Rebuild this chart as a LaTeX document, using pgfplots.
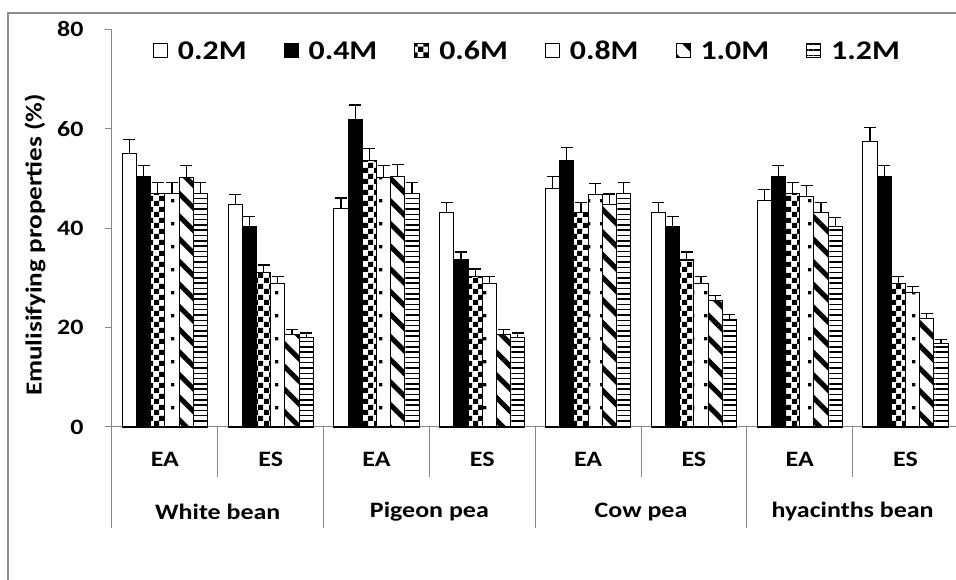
\documentclass[border=0pt]{standalone}
\usepackage{pgfplots}
\pgfplotsset{compat=1.18}
\usepackage{pgfplotstable}
\usepackage{fontspec}
\usetikzlibrary{patterns,patterns.meta}
\newfontfamily\cf{Carlito}[FakeStretch=1.18]
\definecolor{axgray}{HTML}{868686}
\definecolor{bordergray}{HTML}{8C8C8C}

\tikzdeclarepattern{
  name=mycheck, type=uncolored,
  bottom left={(0pt,0pt)}, top right={(11pt,11pt)}, tile size={(11pt,11pt)},
  code={\fill (0pt,0pt) rectangle (5.5pt,5.5pt); \fill (5.5pt,5.5pt) rectangle (11pt,11pt);}
}
\tikzdeclarepattern{
  name=mydots, type=uncolored,
  bottom left={(0pt,0pt)}, top right={(13.225pt,23pt)}, tile size={(13.225pt,23pt)},
  code={\fill (0.2pt,10pt) rectangle (3.6pt,13.4pt);}
}

\pgfplotstableread{
x y e
0 55.1 2.7
1 44.8 2.0
2 44.0 2.1
3 43.1 2.1
4 48.0 2.4
5 43.1 2.1
6 45.5 2.3
7 57.4 2.8
}\tA
\pgfplotstableread{
x y e
0 50.4 2.3
1 40.4 1.9
2 61.9 2.9
3 33.6 1.6
4 53.7 2.5
5 40.3 2.0
6 50.4 2.3
7 50.4 2.3
}\tB
\pgfplotstableread{
x y e
0 46.9 2.3
1 31.1 1.5
2 53.6 2.5
3 30.3 1.5
4 43.1 2.1
5 33.6 1.6
6 46.9 2.3
7 28.9 1.4
}\tC
\pgfplotstableread{
x y e
0 46.9 2.3
1 28.9 1.4
2 50.2 2.4
3 28.9 1.4
4 46.7 2.3
5 28.9 1.4
6 46.3 2.3
7 27.0 1.2
}\tD
\pgfplotstableread{
x y e
0 50.3 2.4
1 18.7 1.0
2 50.4 2.5
3 18.7 1.0
4 44.7 2.2
5 25.4 1.0
6 43.1 2.1
7 21.8 1.0
}\tE
\pgfplotstableread{
x y e
0 46.9 2.3
1 18.0 0.9
2 46.9 2.3
3 18.0 0.9
4 46.9 2.3
5 21.7 1.0
6 40.3 1.9
7 16.8 0.8
}\tF

\begin{document}
\begin{tikzpicture}[x=1pt,y=1pt]
\useasboundingbox (0,0) rectangle (956,580);
\draw[bordergray, line width=1.2pt] (8,-10) -- (8,567) -- (970,567);
\begin{axis}[
  at={(112pt,153pt)}, anchor=south west,
  x=105.8pt, y=4.969pt,
  xmin=-0.5, xmax=7.5, ymin=0, ymax=80,
  ybar=0pt, bar width=14.2pt,
  clip=false,
  axis x line*=bottom, axis y line*=left,
  axis line style={axgray, line width=1pt, -},
  tick align=outside,
  major tick length=7pt,
  tick style={axgray, line width=1pt},
  ytick={0,20,...,80},
  xtick={0,...,7},
  xticklabels={EA,ES,EA,ES,EA,ES,EA,ES},
  xtick style={draw=none},
  /pgf/number format/assume math mode=true,
  ticklabel style={font=\cf\bfseries\fontsize{22}{26}\selectfont},
  yticklabel style={xshift=-18pt},
  xticklabel style={yshift=-15pt},
  ylabel={Emulisifying properties (\%)},
  ylabel style={font=\cf\bfseries\fontsize{23}{27}\selectfont, at={(axis description cs:-0.091,0.458)}, anchor=center},
  legend columns=6,
  legend style={draw=none, fill=none, at={(axis description cs:0.0484,0.946)}, anchor=west,
    font=\cf\bfseries\fontsize{27}{32}\selectfont, inner sep=0pt, outer sep=0pt,
    nodes={inner sep=0pt},
    /tikz/every odd column/.append style={column sep=10pt},
    /tikz/every even column/.append style={column sep=37pt}},
  legend image code/.code={\draw[#1, line width=1pt] (0pt,-7pt) rectangle (14pt,7pt);},
  error bars/y dir=plus, error bars/y explicit,
  error bars/error bar style={black, line width=1.2pt},
  error bars/error mark options={black, line width=1.2pt, mark size=6pt, rotate=90},
]
\addplot[draw=black, line width=1.1pt, fill=white] table[x=x,y=y,y error=e] {\tA};
\addlegendentry{0.2M}
\addplot[draw=black, line width=1.1pt, fill=black] table[x=x,y=y,y error=e] {\tB};
\addlegendentry{0.4M}
\addplot[draw=black, line width=1.1pt, pattern=mycheck] table[x=x,y=y,y error=e] {\tC};
\addlegendentry{0.6M}
\addplot[draw=black, line width=1.1pt, pattern=mydots] table[x=x,y=y,y error=e] {\tD};
\addlegendentry{0.8M}
\addplot[draw=black, line width=1.1pt, pattern={Lines[angle=-45,distance=16pt,line width=5pt]}] table[x=x,y=y,y error=e] {\tE};
\addlegendentry{1.0M}
\addplot[draw=black, line width=1.1pt, pattern={Lines[angle=0,distance=5.3pt,line width=1.5pt]}] table[x=x,y=y,y error=e] {\tF};
\addlegendentry{1.2M}
\pgfplotsinvokeforeach{-0.5,0.5,1.5,2.5,3.5,4.5,5.5,6.5,7.5}{
  \draw[axgray, line width=1pt] (axis cs:#1,0) -- ++(0pt,-50pt);}
\pgfplotsinvokeforeach{-0.5,1.5,3.5,5.5,7.5}{
  \draw[axgray, line width=1pt] (axis cs:#1,0) -- ++(0pt,-101pt);}
\node[font=\cf\bfseries\fontsize{22}{26}\selectfont] at (axis cs:0.5,0) [yshift=-85pt] {White bean};
\node[font=\cf\bfseries\fontsize{22}{26}\selectfont] at (axis cs:2.5,0) [yshift=-85pt] {Pigeon pea};
\node[font=\cf\bfseries\fontsize{22}{26}\selectfont] at (axis cs:4.5,0) [yshift=-85pt] {Cow pea};
\node[font=\cf\bfseries\fontsize{22}{26}\selectfont] at (axis cs:6.5,0) [yshift=-85pt] {hyacinths bean};
\end{axis}
\end{tikzpicture}
\end{document}
